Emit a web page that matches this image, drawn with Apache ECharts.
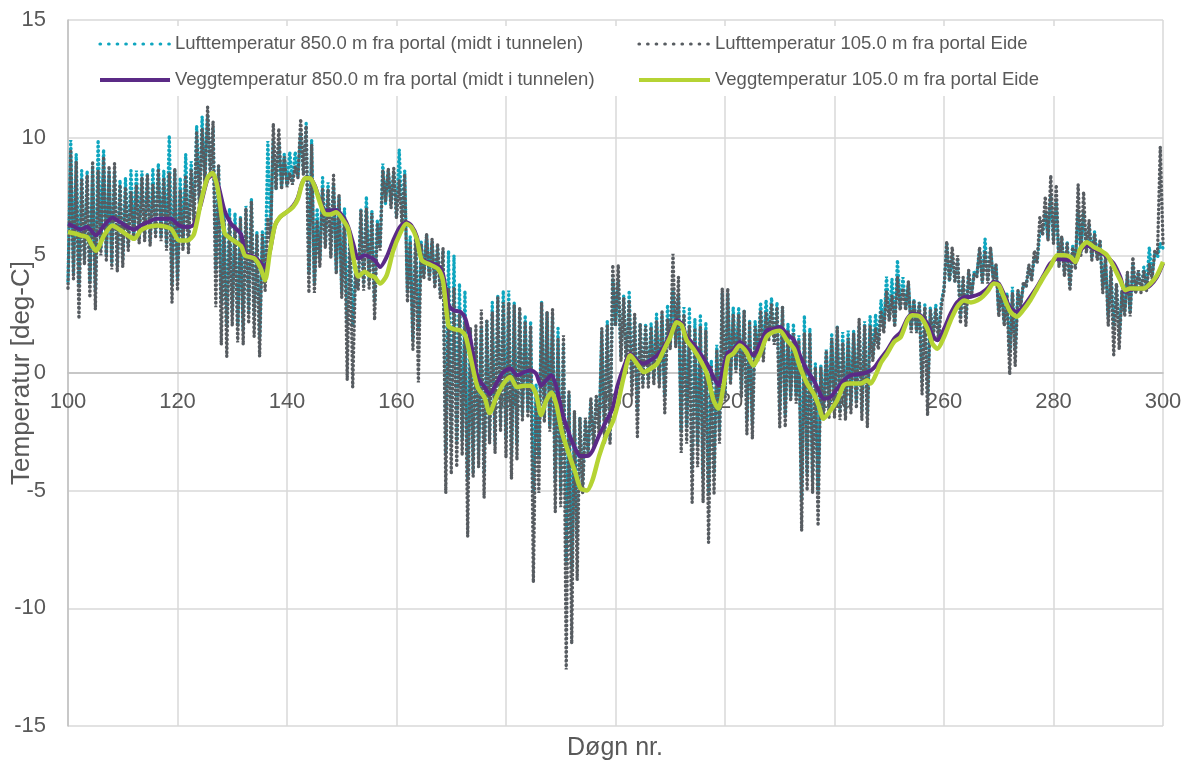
<!DOCTYPE html>
<html>
<head>
<meta charset="utf-8">
<title>Temperatur</title>
<script src="https://cdn.jsdelivr.net/npm/echarts@6/dist/echarts.min.js"></script>
<style>
  html, body { margin: 0; padding: 0; background: #ffffff; }
  #chart { width: 1190px; height: 763px; }
</style>
</head>
<body>
<div id="chart"></div>
<script>
// Series names
const NAME_AIR_850 = 'Lufttemperatur 850.0 m fra portal (midt i tunnelen)';
const NAME_AIR_105 = 'Lufttemperatur 105.0 m fra portal Eide';
const NAME_WALL_850 = 'Veggtemperatur 850.0 m fra portal (midt i tunnelen)';
const NAME_WALL_105 = 'Veggtemperatur 105.0 m fra portal Eide';

// Axis ticks
const xTicks = { min: 100, max: 300, step: 20 };
const yTicks = { min: -15, max: 15, step: 5 };

// Air temperature: daily minimum at day N, daily maximum at day N + 0.5
const FIRST_DAY = 100;

const air105Lo = [
  3.6, 4.0, 2.3, 4.6, 3.2, 2.7, 5.0, 4.8, 4.4, 4.3,
  4.5, 5.2, 5.6, 5.5, 5.6, 5.4, 5.8, 5.6, 5.2, 3.0,
  3.5, 5.2, 5.1, 6.3, 7.0, 8.0, 8.4, 2.8, 1.2, 0.7,
  2.0, 1.3, 1.2, 2.1, 1.55, 0.7, 3.5, 5.5, 7.8, 7.8,
  7.9, 8.0, 8.3, 8.4, 3.4, 3.4, 4.5, 5.3, 4.9, 4.2,
  3.2, -0.3, -0.6, 3.5, 3.5, 3.6, 2.25, 5.2, 7.3, 7.0,
  6.6, 6.3, 3.0, 1.0, -0.4, 4.0, 3.9, 3.6, 3.2, -5.1,
  -4.3, -4.0, -3.5, -6.95, -4.4, -4.0, -5.3, -3.0, -3.4, -2.5,
  -3.6, -4.5, -3.7, -2.0, -1.9, -8.9, -5.1, -2.1, -2.5, -5.9,
  -5.7, -12.6, -11.5, -8.8, -5.1, -3.5, -3.2, -2.65, -3.0, -3.0,
  2.0, 0.5, 0.0, -1.0, -2.7, -0.6, -0.6, -0.5, -0.6, -1.7,
  1.0, 1.1, -3.4, -3.0, -5.5, -4.0, -5.5, -7.2, -5.1, -3.0,
  -1.2, -0.5, 0.0, -1.0, -2.6, -2.8, 0.5, 0.5, 1.4, 1.2,
  -2.3, -2.3, -1.2, -1.3, -6.7, -5.0, -5.1, -6.5, -2.0, -1.9,
  -1.9, -2.0, -2.0, -1.7, -1.5, -2.0, -2.3, 0.5, 1.0, 1.7,
  2.2, 1.95, 2.66, 2.66, 1.7, 1.7, -0.9, -1.8, 1.4, 1.4,
  3.5, 3.9, 3.9, 2.1, 2.0, 3.24, 4.1, 3.8, 3.8, 3.9,
  2.4, 2.0, -0.07, 0.3, 2.8, 3.66, 3.9, 4.65, 5.9, 5.6,
  5.5, 4.5, 4.1, 3.5, 4.4, 5.0, 5.1, 4.8, 4.8, 3.4,
  2.0, 0.77, 1.0, 2.4, 2.4, 3.4, 3.4, 3.5, 4.0, 5.1,
  5.5
];

const air105Hi = [
  9.5, 9.0, 8.2, 8.4, 9.0, 8.6, 9.2, 8.8, 8.9, 8.0,
  7.9, 7.7, 8.0, 8.3, 8.4, 8.0, 8.6, 8.3, 8.5, 8.7,
  7.8, 8.4, 8.6, 10.2, 10.4, 11.3, 10.7, 8.8, 6.5, 6.6,
  6.3, 6.6, 7.0, 7.3, 5.9, 5.9, 6.6, 10.6, 10.4, 9.2,
  8.5, 8.8, 10.8, 10.5, 9.7, 6.5, 7.8, 7.8, 8.4, 7.6,
  6.6, 5.8, 4.2, 6.9, 7.0, 6.8, 6.3, 8.6, 8.7, 8.7,
  8.2, 8.45, 5.6, 5.9, 5.5, 5.9, 5.7, 5.5, 5.3, 3.6,
  3.6, 2.5, 2.2, 1.9, 2.0, 2.7, 2.2, 2.6, 3.2, 3.0,
  3.0, 2.9, 2.8, 2.2, 2.0, -0.8, 3.0, 2.6, 2.7, 1.5,
  1.6, -0.8, -1.6, -1.9, -1.9, -1.05, -1.0, 1.9, 2.0, 4.6,
  4.6, 3.2, 3.1, 2.5, 2.1, 2.0, 1.95, 2.2, 2.66, 2.3,
  5.06, 4.07, 2.5, 2.0, 1.9, 1.95, 1.8, 0.3, 1.0, 3.6,
  3.6, 2.5, 2.5, 2.66, 2.2, 2.0, 2.66, 2.6, 2.9, 2.8,
  2.8, 1.8, 1.7, 1.4, 1.7, 1.7, 0.25, 0.25, 0.96, 1.5,
  1.95, 1.3, 1.5, 1.7, 2.3, 2.0, 2.0, 1.9, 2.66, 3.5,
  3.3, 4.07, 3.6, 3.9, 3.1, 3.0, 2.8, 2.66, 2.7, 2.8,
  5.6, 5.35, 5.0, 4.07, 4.37, 4.2, 5.35, 5.2, 5.35, 4.6,
  3.5, 3.3, 3.4, 3.5, 3.87, 4.6, 5.2, 6.6, 7.5, 8.4,
  8.0, 5.8, 5.5, 5.35, 8.0, 7.7, 6.5, 5.9, 5.6, 4.93,
  4.5, 3.8, 3.5, 4.3, 4.93, 4.37, 4.37, 4.65, 5.2, 9.6
];

const air850Lo = [
  3.9, 4.2, 3.8, 4.8, 3.9, 3.5, 5.3, 5.0, 4.7, 4.6,
  4.8, 5.4, 5.7, 5.7, 5.8, 5.6, 5.9, 5.8, 5.5, 3.8,
  4.0, 5.4, 5.4, 6.5, 7.2, 8.2, 8.5, 4.4, 3.0, 2.0,
  2.6, 2.0, 1.8, 2.6, 2.4, 1.5, 4.0, 6.0, 7.8, 7.9,
  8.0, 8.1, 8.3, 8.5, 4.2, 3.8, 4.8, 5.4, 5.0, 4.3,
  3.4, 2.1, 2.0, 3.7, 3.8, 3.9, 3.0, 5.4, 7.2, 7.2,
  6.6, 6.4, 3.4, 1.4, 1.8, 4.2, 4.1, 3.8, 3.4, -3.4,
  -2.9, -3.0, -2.8, -4.5, -4.2, -3.6, -4.2, -2.8, -3.0, -2.2,
  -2.8, -3.5, -3.0, -1.8, -1.6, -5.0, -3.6, -1.9, -2.3, -4.6,
  -5.0, -8.0, -8.3, -7.0, -4.8, -3.4, -3.0, -2.4, -2.6, -2.8,
  2.0, 0.7, 0.2, -0.6, -1.6, -0.4, -0.3, -0.2, -0.4, -1.0,
  1.2, 1.2, -2.5, -2.3, -4.2, -3.0, -4.5, -5.1, -4.2, -2.5,
  -0.9, -0.3, 0.2, -0.7, -2.0, -2.2, 0.7, 0.8, 1.5, 1.3,
  -1.6, -1.8, -1.0, -1.0, -5.4, -4.3, -4.5, -5.0, -1.6, -1.5,
  -1.5, -1.6, -1.6, -1.3, -1.2, -1.6, -1.8, 0.7, 1.2, 1.9,
  2.3, 2.1, 2.8, 2.8, 1.9, 1.8, -0.4, -1.0, 1.5, 1.6,
  3.6, 3.9, 3.9, 2.4, 2.3, 3.3, 4.2, 3.9, 3.9, 4.0,
  2.6, 2.2, 0.85, 1.0, 2.9, 3.7, 4.0, 4.7, 5.9, 5.7,
  5.6, 4.6, 4.2, 3.7, 4.6, 5.1, 5.2, 4.9, 4.9, 3.6,
  2.4, 2.0, 1.6, 2.6, 2.6, 3.4, 3.5, 3.6, 4.1, 4.9,
  5.3
];

const air850Hi = [
  9.9, 9.3, 8.6, 8.6, 8.8, 9.9, 9.5, 8.6, 8.6, 8.2,
  8.3, 8.6, 8.6, 8.6, 8.5, 8.7, 8.9, 8.6, 10.1, 8.6,
  8.3, 9.3, 9.0, 10.5, 10.9, 11.0, 10.4, 8.8, 6.8, 7.0,
  6.8, 6.6, 7.1, 7.4, 6.0, 6.0, 9.86, 9.9, 9.8, 9.3,
  9.4, 9.4, 10.2, 10.6, 9.9, 7.0, 8.3, 8.1, 8.0, 7.5,
  7.0, 5.9, 4.3, 7.0, 7.5, 6.9, 6.5, 8.9, 8.6, 8.5,
  9.5, 8.6, 5.8, 5.9, 5.6, 5.9, 5.6, 5.4, 5.2, 5.2,
  5.0, 3.8, 3.5, 1.9, 1.5, 1.9, 2.2, 3.0, 3.3, 3.5,
  3.5, 3.0, 2.6, 2.45, 2.2, -0.5, 3.0, 2.6, 2.4, 1.9,
  1.3, -0.9, -1.7, -1.9, -2.0, -1.2, -1.0, 1.8, 2.2, 4.0,
  3.9, 3.3, 3.5, 2.4, 2.1, 2.1, 2.1, 2.5, 2.5, 2.9,
  3.5, 3.3, 2.8, 2.8, 2.3, 2.5, 2.16, 0.55, 1.2, 3.4,
  3.4, 2.8, 2.8, 2.7, 2.2, 2.2, 3.0, 3.1, 3.2, 3.0,
  2.8, 2.1, 2.1, 1.6, 2.45, 1.9, 0.4, 0.35, 1.0, 1.7,
  1.95, 1.74, 1.8, 1.8, 2.0, 2.2, 2.4, 2.5, 3.1, 4.1,
  4.0, 4.8, 4.07, 3.8, 3.1, 3.0, 2.9, 2.8, 2.9, 3.0,
  5.5, 5.0, 4.8, 4.0, 4.3, 4.3, 5.2, 5.7, 5.3, 4.6,
  3.6, 3.4, 3.66, 3.5, 3.7, 4.5, 4.9, 6.0, 6.8, 7.5,
  7.3, 5.8, 5.6, 5.4, 6.8, 6.8, 6.3, 6.0, 5.6, 4.93,
  4.3, 3.8, 3.5, 4.2, 4.6, 4.3, 4.5, 5.35, 5.1, 5.5
];

// Wall temperature, sampled days and values
const wallDays = [
  100, 101.7, 102.3, 103.5, 105.1, 106.6, 108.1, 109.6, 110.9, 112.1,
  113.3, 114.5, 116.3, 118.8, 120.3, 121.8, 123.0, 124.3, 125.5, 126.4,
  127.3, 128.6, 129.8, 131.6, 132.3, 133.2, 134.1, 135.1, 136.0, 136.9,
  137.8, 138.7, 139.9, 141.1, 142.0, 142.7, 143.3, 144.2, 145.1, 146.0,
  146.9, 147.8, 149.0, 150.3, 151.2, 152.1, 153.0, 154.2, 155.1, 156.0,
  157.0, 158.2, 159.4, 160.6, 161.8, 162.7, 163.7, 164.6, 165.8, 167.6,
  168.5, 169.5, 170.4, 171.7, 172.6, 173.5, 174.8, 176.1, 177.0, 178.2,
  179.5, 180.8, 182.0, 183.3, 184.5, 185.5, 186.4, 187.3, 188.3, 189.2,
  190.2, 191.4, 192.7, 193.6, 194.8, 195.8, 197.0, 198.4, 199.5, 200.3,
  201.5, 202.7, 203.9, 205.2, 206.4, 207.6, 208.8, 210.0, 211.2, 212.1,
  213.0, 214.2, 215.5, 216.7, 217.9, 218.8, 219.7, 220.6, 221.5, 222.7,
  223.9, 225.2, 226.4, 227.6, 228.8, 230.0, 231.3, 232.6, 233.8, 235.0,
  236.2, 237.1, 238.0, 239.3, 240.5, 241.7, 242.9, 244.8, 246.0, 246.6,
  247.5, 248.4, 249.6, 250.9, 252.1, 253.3, 254.2, 255.7, 257.0, 257.9,
  258.8, 260.0, 261.2, 262.4, 263.7, 264.9, 266.7, 267.9, 269.1, 270.0,
  270.9, 272.1, 273.3, 274.5, 275.8, 277.0, 278.2, 279.4, 280.7, 281.9,
  283.1, 284.0, 284.9, 286.1, 287.4, 288.6, 289.8, 291.0, 292.2, 293.1,
  294.0, 295.2, 296.5, 297.7, 298.9, 300.0
];

const wall850 = [
  6.34, 6.15, 6.1, 6.2, 5.85, 6.27, 6.6, 6.4, 6.2, 6.1,
  6.27, 6.4, 6.55, 6.55, 6.27, 6.2, 6.3, 7.2, 8.24, 8.4,
  8.1, 6.9, 6.34, 5.9, 5.1, 5.0, 4.93, 4.7, 4.5, 5.2,
  6.27, 6.62, 6.83, 7.1, 7.46, 8.03, 8.28, 8.28, 7.96, 7.32,
  6.9, 6.9, 6.93, 6.62, 6.2, 5.5, 4.86, 5.0, 4.93, 4.8,
  4.5, 4.93, 5.63, 6.2, 6.41, 6.27, 5.8, 4.86, 4.7, 4.56,
  4.2, 2.9, 2.67, 2.6, 2.3, 1.43, -0.17, -0.6, -0.9, -0.47,
  0.04, 0.19, -0.1, 0.04, 0.12, -0.03, -0.54, -0.32, -0.1, -0.6,
  -1.63, -2.5, -3.24, -3.53, -3.53, -3.3, -2.65, -2.0, -1.49, -0.6,
  0.25, 0.82, 0.54, 0.4, 0.54, 0.75, 1.1, 1.67, 2.23, 2.1,
  1.53, 1.24, 0.82, 0.4, -0.17, -0.52, 0.25, 0.89, 0.96, 1.32,
  1.1, 0.75, 1.24, 1.8, 1.87, 1.95, 1.67, 1.39, 0.68, 0.11,
  -0.31, -0.74, -1.09, -1.02, -0.66, -0.31, -0.1, -0.03, 0.04, 0.1,
  0.3, 0.6, 0.96, 1.46, 1.74, 2.31, 2.52, 2.45, 2.09, 1.6,
  1.39, 1.87, 2.52, 3.01, 3.22, 3.24, 3.38, 3.59, 3.87, 3.8,
  3.38, 2.75, 2.61, 2.82, 3.24, 3.66, 4.15, 4.65, 4.86, 4.82,
  4.79, 4.72, 5.21, 5.42, 5.28, 5.14, 4.93, 4.65, 4.08, 3.45,
  3.52, 3.59, 3.59, 3.73, 4.08, 4.65
];

const wall105 = [
  5.99, 5.9, 5.85, 5.77, 5.2, 5.85, 6.27, 6.06, 5.85, 5.7,
  6.06, 6.2, 6.27, 6.13, 5.63, 5.63, 5.9, 7.3, 8.3, 8.5,
  7.9, 5.95, 5.7, 5.4, 5.0, 4.93, 4.86, 4.5, 3.94, 5.2,
  6.27, 6.62, 6.83, 7.05, 7.4, 8.0, 8.28, 8.28, 7.9, 7.25,
  6.76, 6.73, 6.83, 6.48, 6.1, 4.93, 4.1, 4.3, 4.15, 4.08,
  3.8, 4.15, 5.2, 5.9, 6.34, 6.2, 5.7, 4.8, 4.64, 4.42,
  3.9, 2.0, 1.87, 1.8, 1.57, 0.7, -0.6, -1.05, -1.7, -1.05,
  -0.47, -0.17, -0.6, -0.54, -0.54, -0.9, -1.78, -1.2, -0.83, -1.34,
  -2.5, -3.38, -4.26, -4.9, -4.99, -4.55, -3.53, -2.6, -2.07, -1.44,
  -0.17, 0.75, 0.4, 0.04, 0.18, 0.4, 0.96, 1.53, 2.16, 2.02,
  1.39, 1.03, 0.54, -0.03, -1.16, -1.51, -0.59, 0.68, 0.82, 1.17,
  0.89, 0.32, 0.82, 1.53, 1.74, 1.8, 1.4, 1.03, 0.18, -0.45,
  -0.88, -1.37, -1.94, -1.58, -1.16, -0.52, -0.45, -0.45, -0.31, -0.45,
  -0.1, 0.4, 0.82, 1.32, 1.53, 2.23, 2.45, 2.38, 1.87, 1.24,
  1.03, 1.53, 2.23, 2.8, 3.08, 3.0, 3.17, 3.45, 3.8, 3.73,
  3.24, 2.61, 2.39, 2.68, 3.1, 3.59, 4.08, 4.51, 5.0, 5.0,
  4.93, 4.72, 5.28, 5.56, 5.35, 5.21, 5.0, 4.51, 3.94, 3.52,
  3.59, 3.59, 3.59, 3.8, 4.15, 4.72
];

// Colours
const COLOR_AIR_850 = '#0FA6BF';
const COLOR_AIR_105 = '#575C61';
const COLOR_WALL_850 = '#5B2A86';
const COLOR_WALL_105 = '#B5D334';
const TEXT_COLOR = '#595959';
const GRID_COLOR = '#D9D9D9';
const FONT = "'Liberation Sans', Arial, Helvetica, sans-serif";

// Plot area
const GRID = { left: 68, right: 27, top: 20, bottom: 37 };
const CHART_HEIGHT = 763;

// Build [day, value] pairs: minimum at the start of each day, maximum at mid-day
function dailyCycle(lo, hi) {
  const pts = [];
  for (let i = 0; i < lo.length; i++) {
    pts.push([FIRST_DAY + i, lo[i]]);
    if (i < hi.length) pts.push([FIRST_DAY + i + 0.5, hi[i]]);
  }
  return pts;
}

function pairs(days, values) {
  return days.map((d, i) => [d, values[i]]);
}

// The day axis crosses the temperature axis at 0 deg-C:
// shift it up from the bottom edge by the height of the part of the plot below zero.
const plotHeight = CHART_HEIGHT - GRID.top - GRID.bottom;
const zeroShift = plotHeight * (0 - yTicks.min) / (yTicks.max - yTicks.min);

const DOT_DASH = [0.5, 3.9];
const LEGEND_DOT = { type: [0.5, 8.1], cap: 'round', width: 3.2 };
const LEGEND_SOLID = { width: 4 };
const HIDDEN_SYMBOL = { color: 'rgba(0,0,0,0)', borderWidth: 0, opacity: 0 };

const chart = echarts.init(document.getElementById('chart'), null, { renderer: 'canvas' });

const legendText = { color: TEXT_COLOR, fontSize: 18.5, fontFamily: FONT, lineHeight: 20 };

chart.setOption({
  animation: false,
  backgroundColor: '#ffffff',
  grid: {
    left: GRID.left, right: GRID.right, top: GRID.top, bottom: GRID.bottom,
    containLabel: false,
    outerBoundsMode: 'none'
  },
  graphic: [
    {
      type: 'rect',
      z: 1,
      silent: true,
      shape: { x: 70, y: 26, width: 1090, height: 70 },
      style: { fill: '#ffffff' }
    },
    {
      type: 'text',
      z: 1,
      silent: true,
      x: 615,
      y: 748,
      style: {
        text: 'Døgn nr.',
        fill: TEXT_COLOR,
        fontSize: 25,
        fontFamily: FONT,
        align: 'center',
        verticalAlign: 'middle',
        textAlign: 'center',
        textVerticalAlign: 'middle'
      }
    }
  ],
  legend: [
    {
      orient: 'vertical', left: 98, top: 34, padding: 0,
      itemWidth: 70, itemHeight: 20, itemGap: 16,
      textStyle: legendText,
      itemStyle: HIDDEN_SYMBOL,
      data: [
        { name: NAME_AIR_850, lineStyle: LEGEND_DOT },
        { name: NAME_WALL_850, lineStyle: LEGEND_SOLID }
      ]
    },
    {
      orient: 'vertical', left: 637, top: 34, padding: 0,
      itemWidth: 71, itemHeight: 20, itemGap: 16,
      textStyle: legendText,
      itemStyle: HIDDEN_SYMBOL,
      data: [
        { name: NAME_AIR_105, lineStyle: LEGEND_DOT },
        { name: NAME_WALL_105, lineStyle: LEGEND_SOLID }
      ]
    }
  ],
  xAxis: {
    type: 'value',
    min: xTicks.min, max: xTicks.max, interval: xTicks.step,
    position: 'bottom',
    offset: -zeroShift,
    axisLine: { show: true, onZero: false, lineStyle: { color: '#BFBFBF', width: 1.5 } },
    axisTick: { show: false },
    axisLabel: { color: TEXT_COLOR, fontSize: 22, fontFamily: FONT, margin: 18 },
    splitLine: { show: true, lineStyle: { color: GRID_COLOR, width: 1.5 } }
  },
  yAxis: {
    type: 'value',
    min: yTicks.min, max: yTicks.max, interval: yTicks.step,
    name: 'Temperatur [deg-C]',
    nameLocation: 'middle',
    nameGap: 33,
    nameMoveOverlap: false,
    nameTextStyle: { color: TEXT_COLOR, fontSize: 26, fontFamily: FONT },
    axisLine: { show: true, onZero: false, lineStyle: { color: '#BFBFBF', width: 1.5 } },
    axisTick: { show: false },
    axisLabel: { color: TEXT_COLOR, fontSize: 22, fontFamily: FONT, margin: 22 },
    splitLine: { show: true, lineStyle: { color: GRID_COLOR, width: 1.5 } }
  },
  series: [
    {
      name: NAME_AIR_850,
      type: 'line',
      data: dailyCycle(air850Lo, air850Hi),
      showSymbol: false,
      symbol: 'none',
      color: COLOR_AIR_850,
      lineStyle: { color: COLOR_AIR_850, width: 3.4, type: DOT_DASH, cap: 'round' },
      z: 2
    },
    {
      name: NAME_AIR_105,
      type: 'line',
      data: dailyCycle(air105Lo, air105Hi),
      showSymbol: false,
      symbol: 'none',
      color: COLOR_AIR_105,
      lineStyle: { color: COLOR_AIR_105, width: 3.4, type: DOT_DASH, cap: 'round' },
      z: 3
    },
    {
      name: NAME_WALL_850,
      type: 'line',
      data: pairs(wallDays, wall850),
      showSymbol: false,
      symbol: 'none',
      smooth: 0.25,
      color: COLOR_WALL_850,
      lineStyle: { color: COLOR_WALL_850, width: 4 },
      z: 4
    },
    {
      name: NAME_WALL_105,
      type: 'line',
      data: pairs(wallDays, wall105),
      showSymbol: false,
      symbol: 'none',
      smooth: 0.25,
      color: COLOR_WALL_105,
      lineStyle: { color: COLOR_WALL_105, width: 4.5 },
      z: 5
    }
  ]
});
</script>
</body>
</html>
